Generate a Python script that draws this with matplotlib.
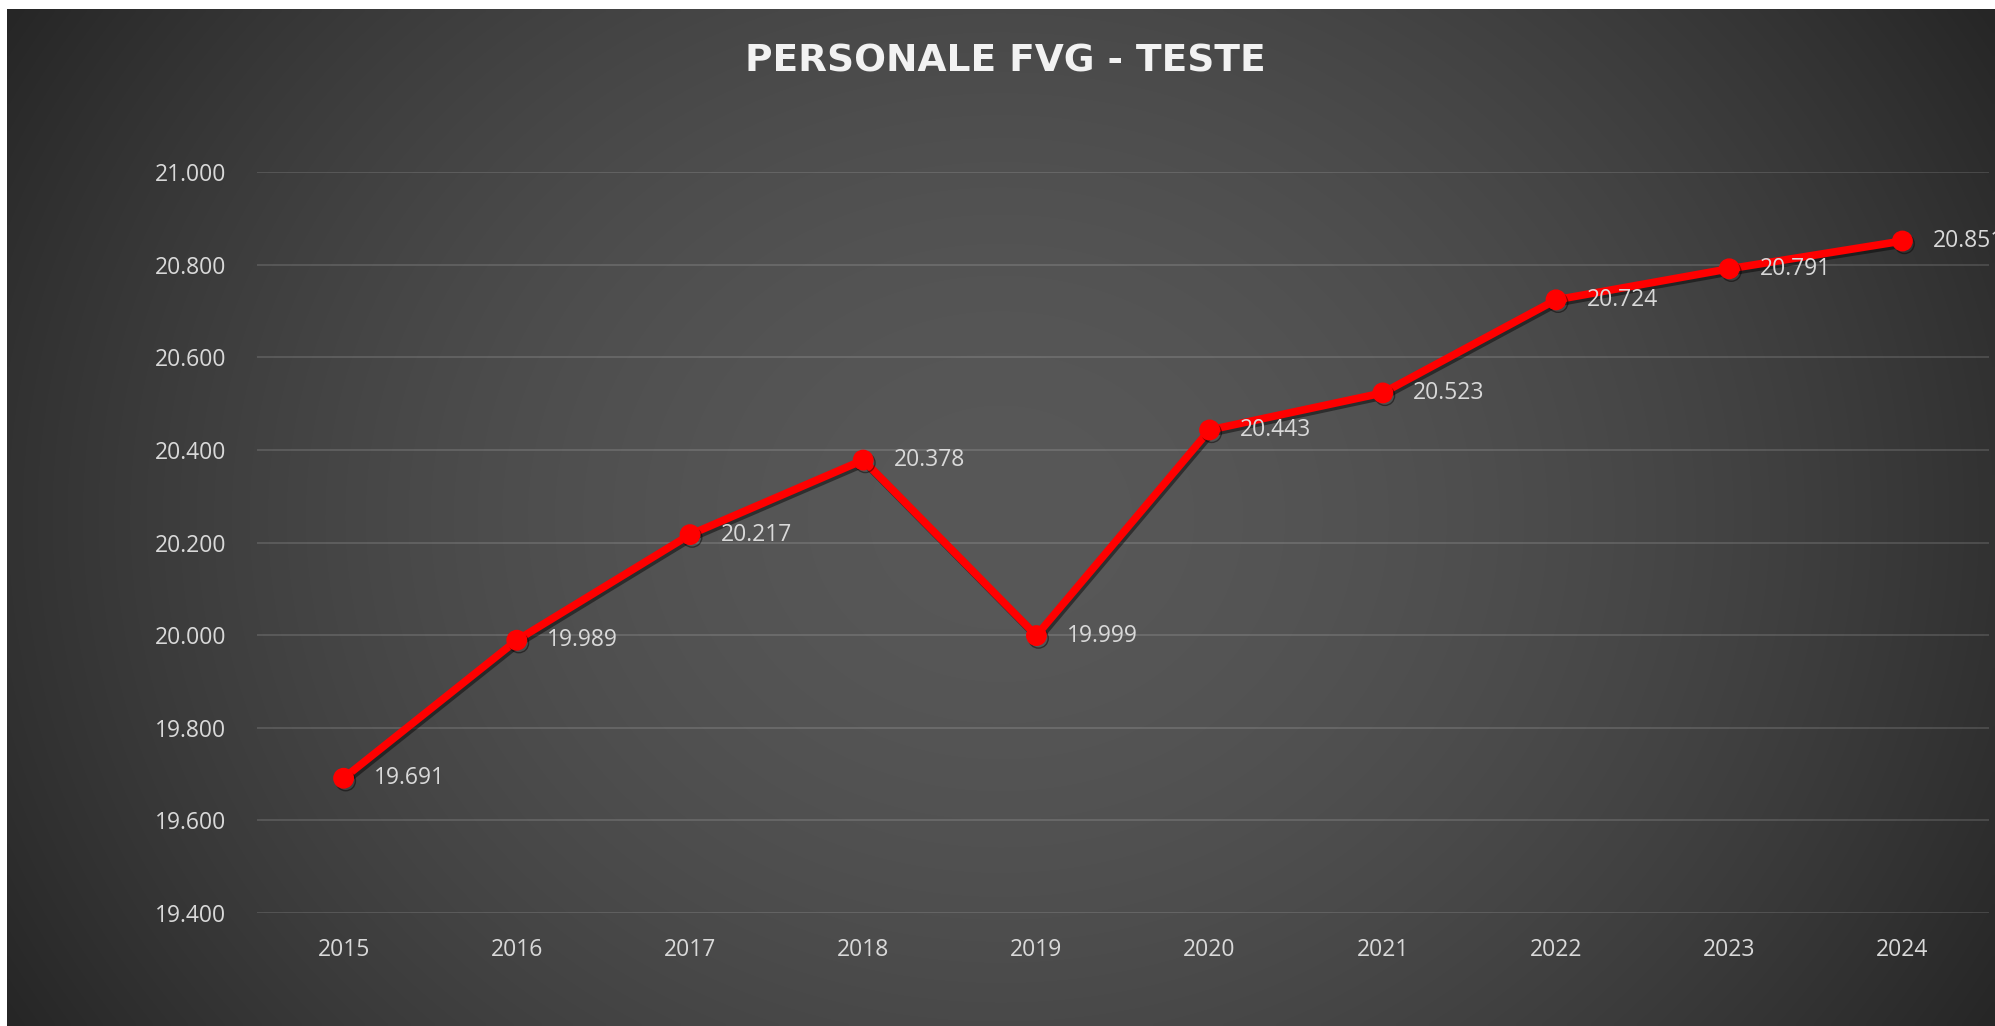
import matplotlib.pyplot as plt
import matplotlib.patheffects as pe
import numpy as np

# dati
anni = ['2015', '2016', '2017', '2018', '2019', '2020', '2021', '2022', '2023', '2024']
teste = [19691, 19989, 20217, 20378, 19999, 20443, 20523, 20724, 20791, 20851]
y_ticks = [19400, 19600, 19800, 20000, 20200, 20400, 20600, 20800, 21000]
titolo = 'PERSONALE FVG - TESTE'


def fmt_it(v):
    # separatore migliaia con il punto
    return f"{v:,.0f}".replace(",", ".")


W, H = 1995, 1026
fig = plt.figure(figsize=(W / 100, H / 100), dpi=100, facecolor='white')
plt.rcParams['font.family'] = ['Open Sans', 'DejaVu Sans']

# sfondo con gradiente radiale
bg = fig.add_axes([7 / W, 0, 1 - 7 / W, 1 - 9 / H])
bg.set_axis_off()
gx, gy = np.meshgrid(np.linspace(-1, 1, 400), np.linspace(-1, 1, 220))
a = 0.6
rn = np.sqrt(gx ** 2 + (a * gy) ** 2) / np.sqrt(1 + a ** 2)
c0, c1 = 0x58 / 255, 0x26 / 255
val = c0 + (c1 - c0) * np.clip(rn, 0, 1) ** 1.8
img = np.dstack([val, val, val])
bg.imshow(img, aspect='auto', extent=[0, 1, 0, 1], interpolation='bilinear')
bg.set_xlim(0, 1)
bg.set_ylim(0, 1)

# area del grafico
ax = fig.add_axes([257 / W, 1 - 913 / H, (1989 - 257) / W, (913 - 172) / H])
ax.patch.set_alpha(0)
x = np.arange(len(anni))
ax.plot(x, teste, color='#FF0000', lw=5.5, marker='o', ms=14, solid_capstyle='round',
        zorder=3,
        path_effects=[pe.SimpleLineShadow(offset=(1.5, -2), shadow_color='black', alpha=0.45),
                      pe.Normal()])

for xi, v in zip(x, teste):
    ax.annotate(fmt_it(v), (xi, v), xytext=(22, 0), textcoords='offset points',
                ha='left', va='center', fontsize=16.5, color='#D9D9D9', zorder=4,
                annotation_clip=False)

ax.set_xlim(-0.5, len(anni) - 0.5)
ax.set_ylim(19400, 21000)
ax.set_yticks(y_ticks)
ax.set_yticklabels([fmt_it(v) for v in y_ticks])
ax.set_xticks(x)
ax.set_xticklabels(anni)
ax.tick_params(axis='both', length=0, labelsize=16.5, labelcolor='#D9D9D9')
ax.tick_params(axis='y', pad=22)
ax.tick_params(axis='x', pad=18)
ax.grid(axis='y', color='white', alpha=0.13, lw=1.5)
for s in ax.spines.values():
    s.set_visible(False)

fig.text(1005 / W, 1 - 62 / H, titolo, ha='center', va='center', fontsize=27,
         fontweight='bold', color='#F2F2F2', family=['DejaVu Sans'])

fig.savefig('out.png', dpi=100, facecolor='white')
